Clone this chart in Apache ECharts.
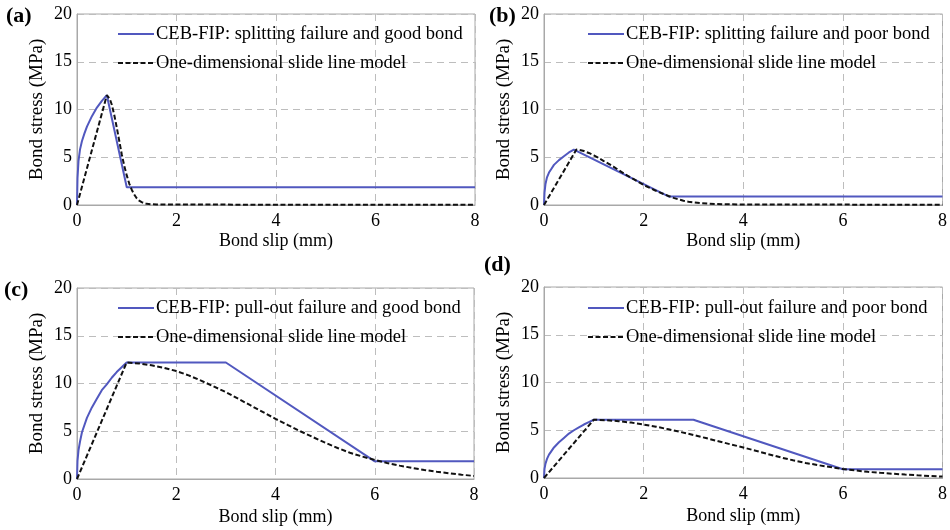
<!DOCTYPE html>
<html>
<head>
<meta charset="utf-8">
<script src="https://cdn.jsdelivr.net/npm/echarts@6/dist/echarts.min.js"></script>
<style>
  html, body { margin: 0; padding: 0; background: #fff; }
  #chart { width: 950px; height: 530px; }
</style>
</head>
<body>
<div id="chart"></div>
<script>
// Bond stress–slip curves: CEB-FIP code law vs. one-dimensional slide line model
const xTicks = [0, 2, 4, 6, 8];
const yTicks = [0, 5, 10, 15, 20];

const panelTags = ['(a)', '(b)', '(c)', '(d)'];
const cebNames = [
  'CEB-FIP: splitting failure and good bond',
  'CEB-FIP: splitting failure and poor bond',
  'CEB-FIP: pull-out failure and good bond',
  'CEB-FIP: pull-out failure and poor bond'
];
const slideName = 'One-dimensional slide line model';

// (a) splitting failure, good bond
const cebA = [[0,0],[0.01,2.8],[0.03,4.6],[0.06,5.8],[0.1,6.7],[0.15,7.5],[0.2,8.2],[0.3,9.3],[0.4,10.2],[0.5,10.9],[0.6,11.5],[1.0,1.85],[8,1.85]];
const slideA = [[0,0],[0.6,11.5],[0.63,11.4],[0.66,11.1],[0.7,10.5],[0.75,9.4],[0.8,8.1],[0.85,6.7],[0.9,5.3],[0.95,4.1],[1.0,3.1],[1.05,2.25],[1.1,1.6],[1.15,1.1],[1.2,0.7],[1.25,0.45],[1.3,0.3],[1.35,0.19],[1.4,0.12],[1.5,0.08],[1.6,0.06],[2,0.05],[4,0.03],[8,0.02]];

// (b) splitting failure, poor bond
const cebB = [[0,0],[0.01,1.3],[0.03,2.2],[0.06,2.9],[0.1,3.4],[0.15,3.8],[0.2,4.2],[0.3,4.7],[0.4,5.1],[0.5,5.5],[0.6,5.8],[2.5,0.9],[8,0.9]];
const slideB = [[0,0],[0.65,5.8],[0.7,5.78],[0.8,5.65],[0.9,5.45],[1.0,5.2],[1.1,4.92],[1.2,4.6],[1.3,4.3],[1.4,4.0],[1.5,3.65],[1.6,3.3],[1.7,3.0],[1.8,2.7],[1.9,2.4],[2.0,2.1],[2.1,1.85],[2.2,1.6],[2.3,1.37],[2.4,1.15],[2.5,0.94],[2.6,0.75],[2.7,0.59],[2.8,0.45],[2.9,0.35],[3.0,0.28],[3.15,0.2],[3.3,0.15],[3.45,0.11],[3.6,0.08],[4,0.05],[8,0.03]];

// (c) pull-out failure, good bond
const cebC = [[0,0],[0.01,1.9],[0.03,3.0],[0.06,3.9],[0.1,4.9],[0.2,6.4],[0.3,7.5],[0.4,8.4],[0.5,9.3],[0.6,9.9],[0.7,10.6],[0.8,11.2],[0.9,11.7],[1,12.2],[3,12.2],[6,1.85],[8,1.85]];
const slideC = [[0,0],[1,12.2],[1.25,12.1],[1.5,11.9],[1.75,11.65],[2,11.3],[2.25,10.85],[2.5,10.3],[2.75,9.7],[3,9.1],[3.25,8.4],[3.5,7.7],[3.75,7.0],[4,6.3],[4.25,5.65],[4.5,5.0],[4.75,4.4],[5,3.8],[5.25,3.25],[5.5,2.75],[5.75,2.35],[6,2.0],[6.25,1.68],[6.5,1.4],[6.75,1.16],[7,0.95],[7.25,0.76],[7.5,0.6],[7.75,0.45],[8,0.32]];

// (d) pull-out failure, poor bond
const cebD = [[0,0],[0.01,0.95],[0.03,1.5],[0.06,2.0],[0.1,2.45],[0.2,3.2],[0.3,3.75],[0.4,4.2],[0.5,4.65],[0.6,5.0],[0.7,5.3],[0.8,5.6],[0.9,5.85],[1,6.1],[3,6.1],[6,0.92],[8,0.92]];
const slideD = [[0,0],[1,6.1],[1.25,6.05],[1.5,5.95],[1.75,5.8],[2,5.6],[2.25,5.37],[2.5,5.1],[2.75,4.81],[3,4.5],[3.25,4.18],[3.5,3.85],[3.75,3.52],[4,3.2],[4.25,2.85],[4.5,2.5],[4.75,2.16],[5,1.85],[5.25,1.58],[5.5,1.35],[5.75,1.14],[6,0.95],[6.25,0.79],[6.5,0.65],[6.75,0.54],[7,0.45],[7.25,0.36],[7.5,0.28],[7.75,0.21],[8,0.15]];

const cebData = [cebA, cebB, cebC, cebD];
const slideData = [slideA, slideB, slideC, slideD];

const FONT = '"Liberation Serif", "Times New Roman", serif';
const BLUE = '#5158bf';
const GRAY = '#a8a8a8';

const grids = [
  { left: 77,  top: 14,  width: 398, height: 191 },
  { left: 544, top: 14,  width: 399, height: 191 },
  { left: 77,  top: 288, width: 397, height: 191 },
  { left: 544, top: 287, width: 399, height: 191 }
];
const legendPos = [
  { left: 117, top: 24 },
  { left: 587, top: 24 },
  { left: 117, top: 298 },
  { left: 587, top: 298 }
];
const tagPos = [
  { left: 6,   top: 5 },
  { left: 489, top: 5 },
  { left: 4,   top: 279 },
  { left: 484, top: 254 }
];
const xNameGap = [27, 27, 29, 29];

const option = {
  backgroundColor: '#fff',
  animation: false,
  textStyle: { fontFamily: FONT, color: '#000' },
  grid: grids.map(g => Object.assign({
    show: true, borderColor: GRAY, borderWidth: 1, backgroundColor: 'transparent'
  }, g)),
  xAxis: grids.map((g, i) => ({
    type: 'value', gridIndex: i, min: xTicks[0], max: xTicks[xTicks.length - 1], interval: 2,
    name: 'Bond slip (mm)', nameLocation: 'middle', nameGap: xNameGap[i],
    nameTextStyle: { fontFamily: FONT, fontSize: 18, color: '#000' },
    axisLine: { show: true, lineStyle: { color: GRAY, width: 1 } },
    axisTick: { show: false },
    axisLabel: { fontFamily: FONT, fontSize: 18, color: '#000', margin: 7 },
    splitLine: { show: true, lineStyle: { color: '#bdbdbd', type: [7, 5], width: 1 } }
  })),
  yAxis: grids.map((g, i) => ({
    type: 'value', gridIndex: i, min: yTicks[0], max: yTicks[yTicks.length - 1], interval: 5,
    name: 'Bond stress (MPa)', nameLocation: 'middle', nameGap: 30,
    nameTextStyle: { fontFamily: FONT, fontSize: 19, color: '#000' },
    axisLine: { show: true, lineStyle: { color: GRAY, width: 1 } },
    axisTick: { show: false },
    axisLabel: { fontFamily: FONT, fontSize: 18, color: '#000', margin: 5 },
    splitLine: { show: true, lineStyle: { color: '#bdbdbd', type: [7, 5], width: 1 } }
  })),
  legend: grids.map((g, i) => ({
    orient: 'vertical',
    left: legendPos[i].left, top: legendPos[i].top,
    data: [cebNames[i], slideName],
    itemWidth: 36, itemHeight: 14, itemGap: 9,
    padding: 0,
    selectedMode: false,
    // line-only keys: hide the marker symbol that sits on the key line
    itemStyle: { opacity: 0 },
    textStyle: { fontFamily: FONT, fontSize: 18.5, color: '#000', lineHeight: 20, padding: [0, 0, 0, -3] }
  })),
  graphic: panelTags.map((t, i) => ({
    type: 'text', left: tagPos[i].left, top: tagPos[i].top,
    style: { text: t, fontFamily: FONT, fontSize: 22, fontWeight: 'bold', fill: '#000' }
  })),
  series: []
};

for (let i = 0; i < 4; i++) {
  option.series.push({
    type: 'line', name: cebNames[i], xAxisIndex: i, yAxisIndex: i,
    data: cebData[i], showSymbol: false, symbol: 'none',
    lineStyle: { color: BLUE, width: 2 }, itemStyle: { color: BLUE }, z: 3
  });
  option.series.push({
    type: 'line', name: slideName, xAxisIndex: i, yAxisIndex: i,
    data: slideData[i], showSymbol: false, symbol: 'none',
    lineStyle: { color: '#111', width: 2, type: [5, 2.5] }, itemStyle: { color: '#111' }, z: 4
  });
}

const chart = echarts.init(document.getElementById('chart'), null, { renderer: 'canvas' });
chart.setOption(option);
</script>
</body>
</html>
